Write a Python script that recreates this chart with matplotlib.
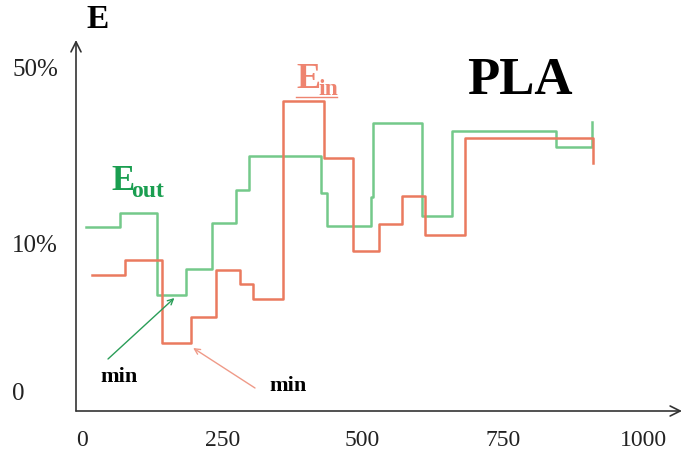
import numpy as np
import matplotlib.pyplot as plt

W, H = 683, 453

# iteration where each step level starts, and the level reached (height units)
eout_x = [8, 68, 134, 185, 232, 275, 298, 426, 437, 515, 519, 606, 659, 844, 908]
eout_y = [183, 197, 115, 141, 187, 220, 254, 217, 184, 213, 287, 194, 279, 263, 288]
ein_x = [17, 77, 142, 194, 238, 282, 304, 358, 431, 482, 529, 570, 611, 683, 910]
ein_y = [135, 150, 67, 93, 140, 126, 111, 309, 252, 159, 186, 214, 175, 272, 247]

x_ticks = [0, 250, 500, 750, 1000]
x_labels = ["0", "250", "500", "750", "1000"]
y_ticks = [19, 167, 343]
y_labels = ["0", "10%", "50%"]

GREEN = "#74c98a"
RED = "#ea7a5f"

plt.rcParams["font.family"] = ["Liberation Serif", "DejaVu Serif"]


def fig_xy(px, py):
    # pixel position (from top-left) -> figure fraction
    return px / W, 1 - py / H


fig = plt.figure(figsize=(W / 100, H / 100), dpi=100, facecolor="white")
ax = fig.add_axes([76 / W, (H - 411) / H, (682 - 76) / W, (411 - 40) / H])
ax.set_facecolor("none")
ax.set_xlim(-10.7, 1069)
ax.set_ylim(-1, 370)
for s in ax.spines.values():
    s.set_visible(False)

# axes drawn as arrows
arrow = dict(arrowstyle="->,head_length=0.6,head_width=0.3", color="#333333",
             lw=1.2, mutation_scale=12, shrinkA=0, shrinkB=0)
ax.annotate("", xy=(1, 0), xytext=(0, 0), xycoords="axes fraction",
            arrowprops=arrow, annotation_clip=False)
ax.annotate("", xy=(0, 1), xytext=(0, 0), xycoords="axes fraction",
            arrowprops=arrow, annotation_clip=False)

ax.set_xticks(x_ticks, x_labels)
ax.set_yticks(y_ticks, y_labels)
ax.tick_params(axis="x", length=0, pad=14, labelsize=17, labelcolor="#222222")
ax.tick_params(axis="y", length=0, pad=46, labelsize=18, labelcolor="#222222")
for lab in ax.get_yticklabels():
    lab.set_horizontalalignment("left")

ax.plot(eout_x, eout_y, drawstyle="steps-post", color=GREEN, lw=1.8)
ax.plot(ein_x, ein_y, drawstyle="steps-post", color=RED, lw=1.8)

# arrows pointing at the minima
i = int(np.argmin(eout_y))
tip_g = (eout_x[i] + 0.6 * (eout_x[i + 1] - eout_x[i]), eout_y[i] - 3)
j = int(np.argmin(ein_y))
tip_r = (ein_x[j + 1] + 4, ein_y[j] - 5)
ax.annotate("", xy=tip_g, xytext=fig_xy(108, 359), textcoords="figure fraction",
            arrowprops=dict(arrowstyle="->", color="#2a9d58", lw=1.0, shrinkA=0, shrinkB=0))
ax.annotate("", xy=tip_r, xytext=fig_xy(255, 388), textcoords="figure fraction",
            arrowprops=dict(arrowstyle="->", color="#ef9a88", lw=1.0, shrinkA=0, shrinkB=0))

fig.text(*fig_xy(119, 377), "min", fontsize=16, fontweight="bold", ha="center", va="center")
fig.text(*fig_xy(288, 386), "min", fontsize=16, fontweight="bold", ha="center", va="center")

# labels
fig.text(*fig_xy(98, 20), "E", fontsize=24, fontweight="bold", ha="center", va="center")
fig.text(*fig_xy(520, 81), "PLA", fontsize=38, fontweight="bold", ha="center", va="center")

OUT_C = "#1a9e50"
fig.text(*fig_xy(111, 190), "E", fontsize=25, fontweight="bold", color=OUT_C,
         ha="left", va="baseline")
fig.text(*fig_xy(131, 197), "out", fontsize=17, fontweight="bold", color=OUT_C,
         ha="left", va="baseline")

IN_C = "#ee8470"
fig.text(*fig_xy(296, 88), "E", fontsize=26, fontweight="bold", color=IN_C,
         ha="left", va="baseline")
fig.text(*fig_xy(318, 95), "in", fontsize=17, fontweight="bold", color=IN_C,
         ha="left", va="baseline")
ux0, uy = fig_xy(296, 97)
ux1, _ = fig_xy(337, 97)
fig.add_artist(plt.Line2D([ux0, ux1], [uy, uy], color=IN_C, lw=1.0))

fig.savefig("out.png", dpi=100, facecolor="white")
